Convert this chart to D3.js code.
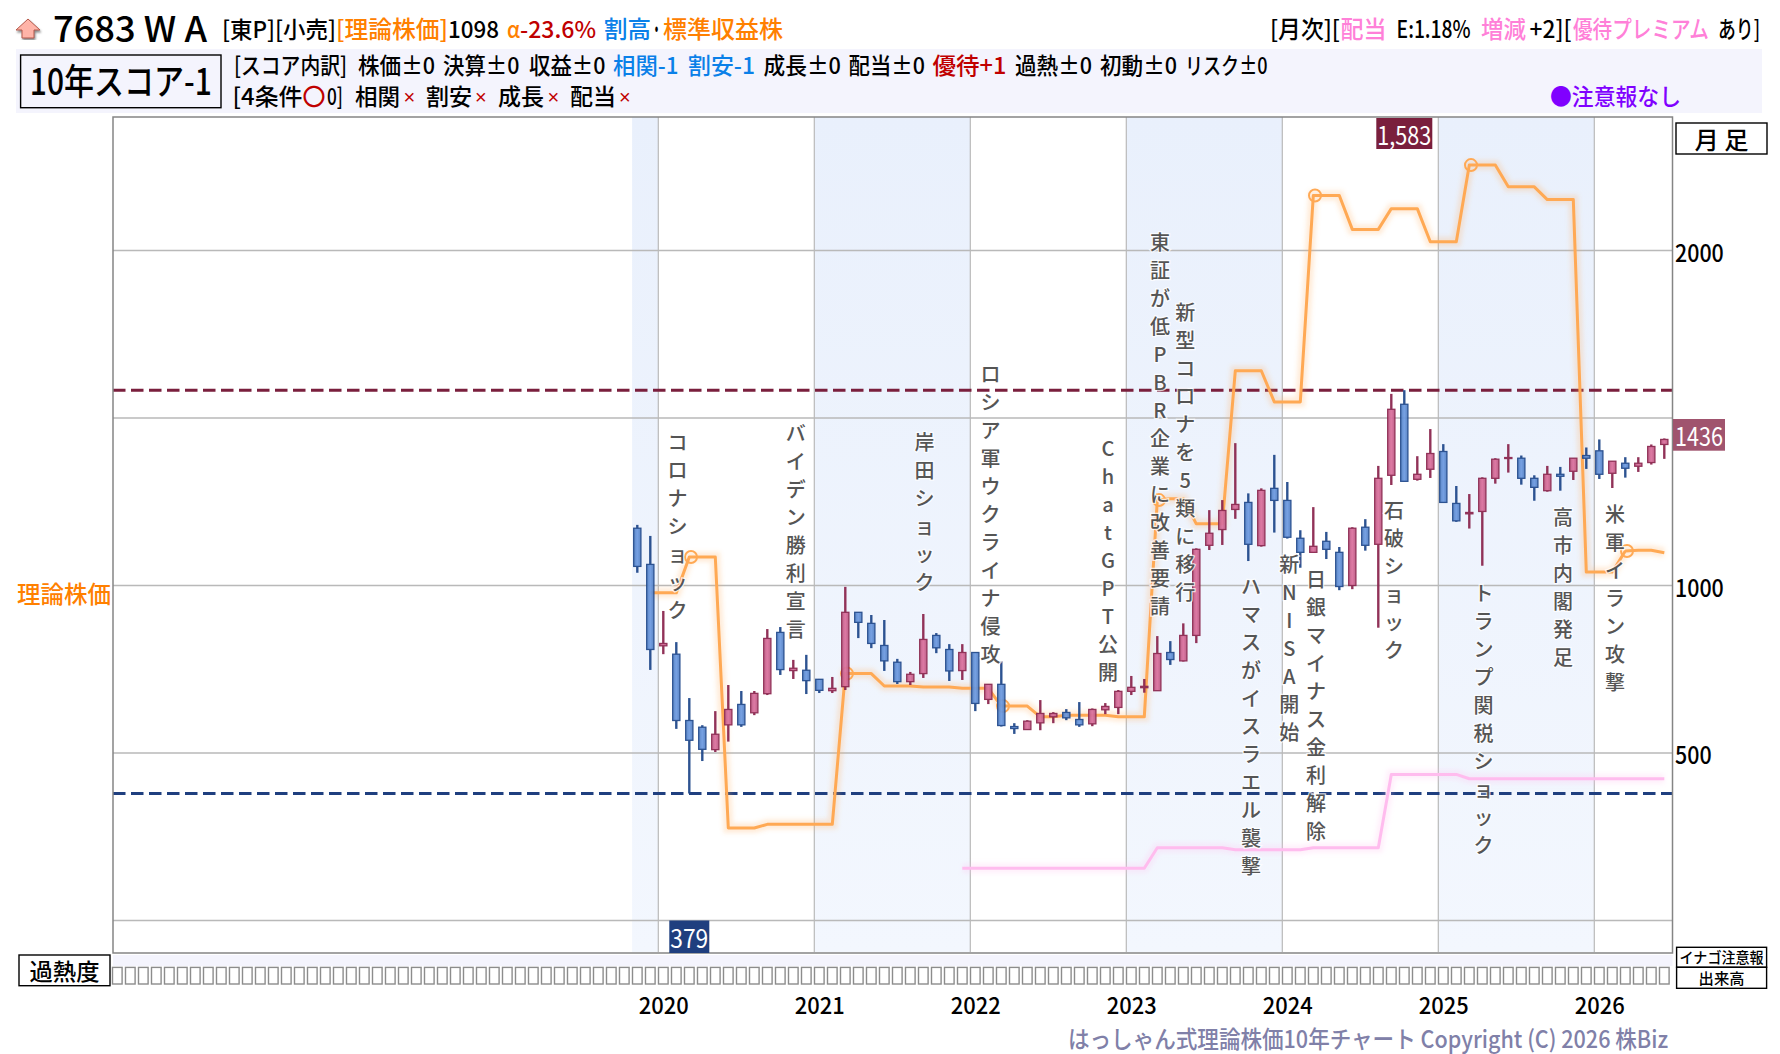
<!DOCTYPE html>
<html lang="ja">
<head>
<meta charset="utf-8">
<title>7683 WA 理論株価10年チャート</title>
<script src="https://cdn.jsdelivr.net/npm/d3@7/dist/d3.min.js"></script>
<style>
html,body{margin:0;padding:0;background:#fff;overflow:hidden}
text{font-family:"Noto Sans CJK JP","Noto Sans",sans-serif}
</style>
</head>
<body>
<svg id="chart" width="1780" height="1054"></svg>
<script>
// Monthly bars, 2019-11 (index 0) through 2026-06 (index 79)
const opens = [1171,1063,820,795,597,577,510,584,645,620,677,860,746,747,720,686,698,920,887,821,771,713,737,851,809,746,800,660,705,579,570,590,608,621,600,587,629,636,684,695,686,800,775,851,1120,1167,1227,1248,1119,1290,1254,1141,1099,1132,1099,1000,1174,1123,1329,1541,1317,1347,1400,1245,1214,1221,1320,1379,1380,1320,1283,1332,1341,1388,1402,1335,1365,1356,1367,1421];
const closes = [1057,809,827,597,538,511,556,630,584,678,842,749,753,716,687,693,920,890,827,775,713,735,839,814,745,800,648,705,582,573,595,618,618,605,584,630,639,684,696,699,797,779,851,1108,1156,1224,1242,1123,1284,1254,1144,1099,1117,1108,997,1171,1120,1320,1526,1311,1332,1394,1248,1193,1218,1320,1377,1382,1320,1293,1332,1326,1380,1380,1332,1371,1350,1365,1415,1436];
const highs = [1181,1148,924,831,664,583,625,703,685,685,870,876,778,793,721,727,996,920,912,897,781,742,915,858,825,825,800,705,774,589,598,658,622,631,652,633,649,688,730,721,849,834,887,1111,1225,1255,1425,1275,1290,1390,1309,1165,1234,1160,1115,1174,1198,1357,1572,1583,1386,1467,1422,1297,1273,1323,1380,1422,1388,1329,1357,1354,1380,1412,1436,1371,1383,1383,1421,1439];
const lows = [1038,748,795,572,379,476,503,534,578,613,673,733,721,676,679,679,688,843,813,745,706,703,724,798,715,718,625,646,579,557,570,568,589,598,578,580,616,616,673,680,686,763,773,828,1106,1121,1199,1073,1116,1158,1140,1053,1098,1079,986,989,1104,874,1300,1311,1313,1321,1248,1190,1170,1059,1304,1337,1301,1253,1280,1283,1315,1348,1318,1291,1322,1339,1361,1378];

// Theoretical price and the dividend-based floor, same monthly index
const theory = [null,978,978,978,1085,1085,1085,276,276,276,287,287,287,287,287,287,737,737,737,700,700,700,697,697,697,693,693,693,640,640,640,608,608,613,613,613,613,608,608,608,1255,1259,1259,1184,1184,1184,1641,1641,1641,1548,1548,1548,2164,2164,2164,2063,2063,2063,2125,2125,2125,2026,2026,2026,2255,2255,2255,2190,2190,2190,2152,2152,2152,1040,1040,1040,1103,1105,1105,1098];
const floorPrice = [null,null,null,null,null,null,null,null,null,null,null,null,null,null,null,null,null,null,null,null,null,null,null,null,null,156,156,156,156,156,156,156,156,156,156,156,156,156,156,156,217,217,217,217,217,217,211,211,211,211,211,211,217,217,217,217,217,217,436,436,436,436,436,436,423,423,423,423,423,423,423,423,423,423,423,423,423,423,423,423];
const revisionMonths = [4,16,28,40,52,64,76];

const yearLabels = [2020,2021,2022,2023,2024,2025,2026];
const yearMonthIndex = [2,14,26,38,50,62,74];
const priceTicks = [0,500,1000,1500,2000];
const priceLabels = [500,1000,2000];
const rangeHigh = 1583, rangeLow = 379, lastClose = 1436;

// Market events written top to bottom beside the candles
const events = [
  ["コロナショック",3.1,441],["バイデン勝利宣言",12.18,432],["岸田ショック",22.1,441.5],
  ["ロシア軍ウクライナ侵攻",27.16,373],["ChatGPT公開",36.2,447.5],
  ["東証が低PBR企業に改善要請",40.2,241],["新型コロナを5類に移行",42.15,311.5],
  ["ハマスがイスラエル襲撃",47.2,585],["新NISA開始",50.15,563.5],
  ["日銀マイナス金利解除",52.2,578],["石破ショック",58.2,509],
  ["トランプ関税ショック",65.1,592],["高市内閣発足",71.2,516],["米軍イラン攻撃",75.2,513]
];

const plot = {left:113, right:1672.5, top:117, bottom:953};
const COLORS = {up:"#8c2850", down:"#224a8c", rangeHigh:"#7a1f3d", rangeLow:"#1f3f7f",
  orange:"#ff8000", blue:"#0a80e8", red:"#c00000", pink:"#ff80d8", purple:"#8000ff",
  panel:"#f4f4fd", grid:"#b9b9b9", frame:"#858585"};

const svg = d3.select("#chart");
const x = d3.scaleLinear().domain([0,79]).range([637.3,1664.3]);
const y = d3.scaleLinear().domain([0,2000]).range([920.5,250.5]);
const yearEdge = i => x(i - 5/13);

// Gradients for the year bands and candle bodies
const defs = svg.append("defs");
function gradient(id, dir, stops){
  const g = defs.append("linearGradient").attr("id",id)
    .attr("x1","0").attr("y1","0").attr("x2",dir==="h"?"1":"0").attr("y2",dir==="h"?"0":"1");
  stops.forEach(([o,c])=>g.append("stop").attr("offset",o).attr("stop-color",c));
}
gradient("bandFill","v",[["0","#e9f0fc"],["1","#f3f7fe"]]);
gradient("upFill","h",[["0","#bd5b85"],["0.5","#dc739f"],["1","#bd5b85"]]);
gradient("downFill","h",[["0","#5582c4"],["0.5","#709ce2"],["1","#5582c4"]]);
defs.append("filter").attr("id","glow").attr("x","-10%").attr("y","-10%").attr("width","120%").attr("height","120%")
  .append("feGaussianBlur").attr("stdDeviation",2);
const halo = defs.append("filter").attr("id","arrowShadow");
halo.append("feDropShadow").attr("dx",1).attr("dy",2).attr("stdDeviation",1).attr("flood-color","#888");

// Text placed at a given left edge and squeezed to a fixed run length
function run(px, py, str, color, size, width, opts={}){
  const t = svg.append("text").attr("x",px).attr("y",py)
    .attr("fill",color).attr("font-size",size).attr("dominant-baseline","central")
    .attr("text-anchor",opts.anchor||"start").attr("font-weight",opts.weight||500).text(str);
  if(width) t.attr("textLength",width).attr("lengthAdjust","spacingAndGlyphs");
  if(opts.family) t.style("font-family",opts.family);
  return t;
}

// Header panels
svg.append("rect").attr("x",16).attr("y",49).attr("width",1746).attr("height",64).attr("fill",COLORS.panel);
svg.append("rect").attr("x",plot.left).attr("y",955).attr("width",plot.right-plot.left).attr("height",11).attr("fill",COLORS.panel);

// Title row
svg.append("path").attr("d","M28 19 L40 30 L34 30 L34 38 L22 38 L22 30 L16 30 Z")
  .attr("fill","#ffb4a8").attr("stroke","#b5584a").attr("stroke-width",1).attr("filter","url(#arrowShadow)");
const BLACK = "#000";
const row1 = [
  [222,"[東P][小売]",BLACK,23,114],[336,"[理論株価]",COLORS.orange,24,112],
  [448,"1098",BLACK,23,51],[507,"α",COLORS.orange,23,13],[520,"-23.6%",COLORS.red,23,76],
  [604,"割高",COLORS.blue,24,47],[651,"・",BLACK,24,11],[663,"標準収益株",COLORS.orange,24,120],
  [1270,"[月次][",BLACK,24,70],[1340.5,"配当",COLORS.pink,24,46],[1396.6,"E:1.18%",BLACK,24,74],
  [1481,"増減",COLORS.pink,24,45],[1529.6,"+2][",BLACK,24,42],[1573,"優待プレミアム",COLORS.pink,24,136],[1718,"あり]",BLACK,24,42]
];
row1.forEach(([px,s,c,f,w])=>run(px,27.5,s,c,f,w));
run(53,26,"7683 W A",BLACK,35,154);

// Score breakdown rows
const row2 = [
  [234,"[スコア内訳]",BLACK,113],[358,"株価±0",BLACK,77],[443,"決算±0",BLACK,76.5],[529,"収益±0",BLACK,76.5],
  [613,"相関-1",COLORS.blue,65.5],[688,"割安-1",COLORS.blue,67],[763.5,"成長±0",BLACK,77.5],[848.5,"配当±0",BLACK,76.5],
  [932.5,"優待+1",COLORS.red,74],[1015,"過熱±0",BLACK,77],[1100,"初動±0",BLACK,77],[1185,"リスク±0",BLACK,82.5]
];
row2.forEach(([px,s,c,w])=>run(px,63.5,s,c,23,w));
const row3 = [
  [232.5,"[4条件",BLACK,70],[302.5,"〇",COLORS.red,23],[327,"0]",BLACK,16],
  [355,"相関",BLACK,45],[426,"割安",BLACK,46],[498,"成長",BLACK,46],[570,"配当",BLACK,46]
];
row3.forEach(([px,s,c,w])=>run(px,95,s,c,23,w));
[403.5,475,547.6,619].forEach(px=>run(px,97,"×",COLORS.red,20,null,{family:"Liberation Sans"}));
run(1550,95,"●注意報なし",COLORS.purple,23,131);

// Score badge
svg.append("rect").attr("x",20.6).attr("y",55).attr("width",200.4).attr("height",52.7)
  .attr("fill",COLORS.panel).attr("stroke","#000").attr("stroke-width",1.4);
run(120.8,78.5,"10年スコア-1",BLACK,36,182,{anchor:"middle"});

// Plot background, year bands, grid
svg.append("rect").attr("x",plot.left).attr("y",plot.top).attr("width",plot.right-plot.left).attr("height",plot.bottom-plot.top).attr("fill","#fff");
svg.append("g").selectAll("rect").data([[-0.4,2],[14,26],[38,50],[62,74]]).join("rect")
  .attr("x",d=>d[0]<0?x(d[0]):yearEdge(d[0]))
  .attr("width",d=>yearEdge(d[1])-(d[0]<0?x(d[0]):yearEdge(d[0])))
  .attr("y",plot.top).attr("height",plot.bottom-plot.top-1).attr("fill","url(#bandFill)");

svg.append("g").selectAll("line").data(yearMonthIndex).join("line")
  .attr("x1",yearEdge).attr("x2",yearEdge).attr("y1",plot.top).attr("y2",plot.bottom-1)
  .attr("stroke",COLORS.grid).attr("stroke-width",1.2);
svg.append("g").selectAll("line").data(priceTicks).join("line")
  .attr("x1",plot.left).attr("x2",plot.right).attr("y1",y).attr("y2",y)
  .attr("stroke",COLORS.grid).attr("stroke-width",1.5);

// Range lines: all-period high and low
const rangeLines = svg.append("g");
[[rangeHigh,COLORS.rangeHigh],[rangeLow,COLORS.rangeLow]].forEach(([v,c])=>{
  rangeLines.append("line").attr("x1",plot.left).attr("x2",plot.right).attr("y1",y(v)).attr("y2",y(v))
    .attr("stroke",c).attr("stroke-width",3).attr("stroke-dasharray","12.5 5.5");
});

// Theoretical price and floor lines, each with a soft glow underneath
const priceLine = d3.line().defined(d=>d!=null).x((d,i)=>x(i)).y(d=>y(d));
[[floorPrice,"#ffbcee"],[theory,"#ffa954"]].forEach(([data,c])=>{
  svg.append("path").attr("d",priceLine(data)).attr("fill","none").attr("stroke",c)
    .attr("stroke-width",10).attr("stroke-opacity",0.22).attr("filter","url(#glow)");
  svg.append("path").attr("d",priceLine(data)).attr("fill","none").attr("stroke",c)
    .attr("stroke-width",3).attr("stroke-linejoin","round");
});
svg.append("g").selectAll("circle").data(revisionMonths).join("circle")
  .attr("cx",i=>x(i)+1.7).attr("cy",i=>y(theory[i])).attr("r",6)
  .attr("fill","none").attr("stroke","#ffa954").attr("stroke-width",2);

// Candlesticks
const candles = svg.append("g").selectAll("g").data(d3.range(opens.length)).join("g")
  .attr("opacity",0.95);
candles.append("line")
  .attr("x1",x).attr("x2",x).attr("y1",i=>y(highs[i])).attr("y2",i=>y(lows[i]))
  .attr("stroke",i=>closes[i]>=opens[i]?COLORS.up:COLORS.down).attr("stroke-width",2.4);
candles.append("rect")
  .attr("x",i=>x(i)-3.6).attr("width",7.2)
  .attr("y",i=>y(Math.max(opens[i],closes[i])))
  .attr("height",i=>Math.abs(y(opens[i])-y(closes[i])))
  .attr("fill",i=>closes[i]>=opens[i]?"url(#upFill)":"url(#downFill)")
  .attr("stroke",i=>closes[i]>=opens[i]?COLORS.up:COLORS.down).attr("stroke-width",1.3);

// Plot frame
svg.append("rect").attr("x",plot.left).attr("y",plot.top).attr("width",plot.right-plot.left).attr("height",plot.bottom-plot.top)
  .attr("fill","none").attr("stroke",COLORS.frame).attr("stroke-width",1.5);

// Event labels, one upright character per line
const PITCH = 28;
const eventGroups = svg.append("g").selectAll("g").data(events).join("g");
eventGroups.each(function(d){
  const chars = Array.from(d[0]);
  d3.select(this).selectAll("text").data(chars).join("text")
    .attr("x",x(d[1])).attr("y",(c,k)=>d[2]+k*PITCH)
    .attr("text-anchor","middle").attr("dominant-baseline","central")
    .attr("font-size",20).attr("font-weight",500).attr("fill","#555")
    .attr("stroke","#fff").attr("stroke-width",2.5).attr("stroke-opacity",0.75).attr("paint-order","stroke")
    .text(c=>c);
});

// Overheat strip: one empty cell per month
const overheatCells = d3.range(-40,80);
svg.append("g").selectAll("rect").data(overheatCells).join("rect")
  .attr("x",i=>x(i)-4.8).attr("width",9.6).attr("y",967.4).attr("height",16.6)
  .attr("fill","#fff").attr("stroke","#8c8c8c").attr("stroke-width",1.4);

// Price axis on the right, year axis below
const yAxis = svg.append("g").attr("transform","translate(1675,3)")
  .call(d3.axisRight(y).tickValues(priceLabels).tickFormat(d3.format("d")).tickSize(0).tickPadding(0));
yAxis.select(".domain").remove();
yAxis.selectAll("text").attr("font-size",24).attr("fill","#000").attr("font-weight",500)
  .attr("textLength",d=>String(d).length*12.2).attr("lengthAdjust","spacingAndGlyphs");

const xAxis = svg.append("g").attr("transform","translate(0,998)")
  .call(d3.axisBottom(x).tickValues(yearMonthIndex).tickFormat((d,i)=>yearLabels[i]).tickSize(0).tickPadding(0));
xAxis.select(".domain").remove();
xAxis.selectAll("text").attr("font-size",23).attr("fill","#000").attr("font-weight",500)
  .attr("textLength",50).attr("lengthAdjust","spacingAndGlyphs");

// Value tags
function tag(cx, y0, y1, w, fill, str, tw){
  svg.append("rect").attr("x",cx-w/2).attr("y",y0).attr("width",w).attr("height",y1-y0).attr("fill",fill);
  run(cx,(y0+y1)/2,str,"#fff",25,tw,{anchor:"middle",weight:400});
}
tag(x(59),118,149,56,COLORS.rangeHigh,d3.format(",")(rangeHigh),54);
tag(x(4),920.5,953,40,COLORS.rangeLow,String(rangeLow),38);
tag(1699,419,450.7,52,"#a0546e",String(lastClose),48);

// Side labels and boxes
run(17,593,"理論株価",COLORS.orange,23.5,94);
function box(bx,by,bw,bh,str,size,tw){
  svg.append("rect").attr("x",bx).attr("y",by).attr("width",bw).attr("height",bh)
    .attr("fill","#fff").attr("stroke","#000").attr("stroke-width",1.4);
  run(bx+bw/2,by+bh/2-0.5,str,"#000",size,tw,{anchor:"middle"});
}
box(1676,123,91,31,"月 足",24,54);
box(19,955,91,30.7,"過熱度",23,70);
box(1676.6,947.3,90,20,"イナゴ注意報",15,84);
box(1676.6,967.3,90,21,"出来高",15,46);

// Footer credit
run(1668,1037,"はっしゃん式理論株価10年チャート Copyright (C) 2026 株Biz","#8080a8",24,600,{anchor:"end"});
</script>
</body>
</html>
